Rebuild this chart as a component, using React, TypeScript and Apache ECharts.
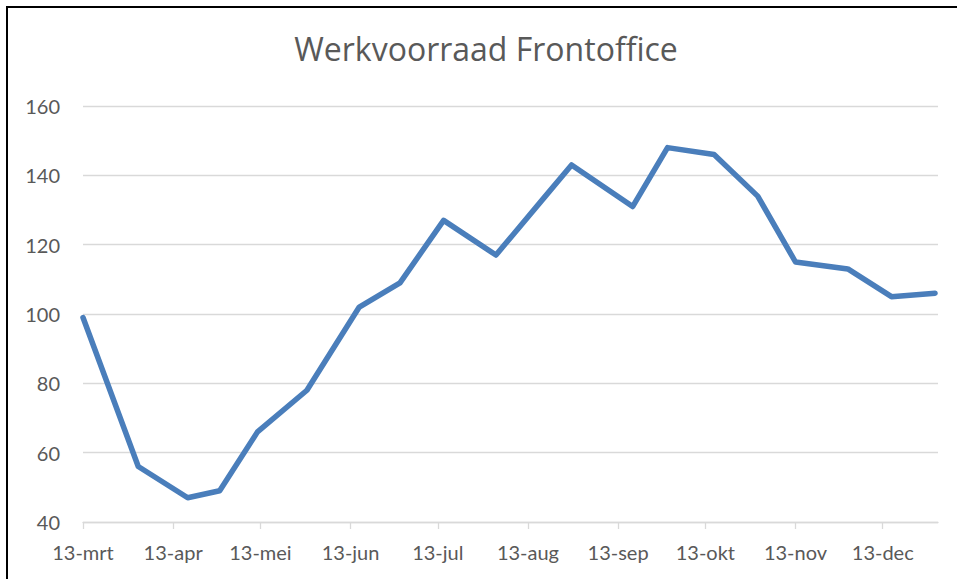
import React, { useEffect, useRef } from "react";
import * as echarts from "echarts";

const TITLE = "Werkvoorraad Frontoffice";
const MONTHS = ["jan", "feb", "mrt", "apr", "mei", "jun", "jul", "aug", "sep", "okt", "nov", "dec"];
const AXIS_START = "2013-03-13";
const AXIS_END = "2014-01-01";
const TICK_DAY = 13;

const dates = [
  "2013-03-13", "2013-04-01", "2013-04-18", "2013-04-29", "2013-05-12",
  "2013-05-29", "2013-06-16", "2013-06-30", "2013-07-15", "2013-08-02",
  "2013-08-19", "2013-08-28", "2013-09-18", "2013-09-30", "2013-10-16",
  "2013-10-31", "2013-11-13", "2013-12-01", "2013-12-16", "2013-12-31",
];
const values = [
  99, 56, 47, 49, 66,
  78, 102, 109, 127, 117,
  134, 143, 131, 148, 146,
  134, 115, 113, 105, 106,
];
const yTicks = { min: 40, max: 160, interval: 20 };

const FONT = "Lato, 'Open Sans', sans-serif";
const TITLE_FONT = "'Open Sans', Lato, sans-serif";
const TEXT = "#595959";
const GRID = "#d9d9d9";
const LINE = "#4A7EBB";

function buildCategories(): string[] {
  const out: string[] = [];
  const start = new Date(AXIS_START + "T00:00:00Z").getTime();
  const end = new Date(AXIS_END + "T00:00:00Z").getTime();
  for (let t = start; t <= end; t += 86400000) {
    out.push(new Date(t).toISOString().slice(0, 10));
  }
  return out;
}

export default function App() {
  const ref = useRef<HTMLDivElement>(null);
  useEffect(() => {
    if (!ref.current) return;
    const chart = echarts.init(ref.current, undefined, { renderer: "svg" });
    const cats = buildCategories();
    const idx = new Map(cats.map((c, i) => [c, i]));
    const data: (number | null)[] = cats.map(() => null);
    dates.forEach((d, i) => {
      const k = idx.get(d);
      if (k !== undefined) data[k] = values[i];
    });
    const isTick = (_i: number, v: string) => Number(v.slice(8, 10)) === TICK_DAY;
    chart.setOption({
      animation: false,
      backgroundColor: "#ffffff",
      graphic: [
        {
          type: "rect",
          shape: { x: 7, y: 7, width: 1000, height: 1000 },
          style: { fill: "none", stroke: "#000000", lineWidth: 2 },
          silent: true,
        },
        {
          type: "text",
          x: 486,
          y: 48,
          style: {
            text: TITLE,
            align: "center",
            verticalAlign: "middle",
            fontSize: 32,
            fontFamily: TITLE_FONT,
            fill: TEXT,
          },
        },
      ],
      grid: { left: 83, right: 19, top: 106, bottom: 57 },
      xAxis: {
        type: "category",
        data: cats,
        boundaryGap: false,
        axisLine: { show: true, lineStyle: { color: GRID, width: 1.3 } },
        axisTick: { show: true, interval: isTick, length: 7, lineStyle: { color: GRID, width: 1.3 } },
        axisLabel: {
          interval: isTick,
          formatter: (v: string) => `${Number(v.slice(8, 10))}-${MONTHS[Number(v.slice(5, 7)) - 1]}`,
          color: TEXT,
          fontSize: 20,
          fontFamily: FONT,
          margin: 20,
        },
        splitLine: { show: false },
      },
      yAxis: {
        type: "value",
        min: yTicks.min,
        max: yTicks.max,
        interval: yTicks.interval,
        axisLine: { show: false },
        axisTick: { show: false },
        axisLabel: { color: TEXT, fontSize: 20, fontFamily: FONT, margin: 23 },
        splitLine: { lineStyle: { color: GRID, width: 1.3 } },
      },
      series: [
        {
          type: "line",
          data,
          connectNulls: true,
          showSymbol: false,
          symbol: "none",
          lineStyle: { color: LINE, width: 5.5, cap: "round", join: "round" },
        },
      ],
    });
    return () => chart.dispose();
  }, []);
  return (
    <div
      ref={ref}
      style={{ position: "fixed", left: 0, top: 0, width: 957, height: 579, background: "#fff" }}
    />
  );
}
